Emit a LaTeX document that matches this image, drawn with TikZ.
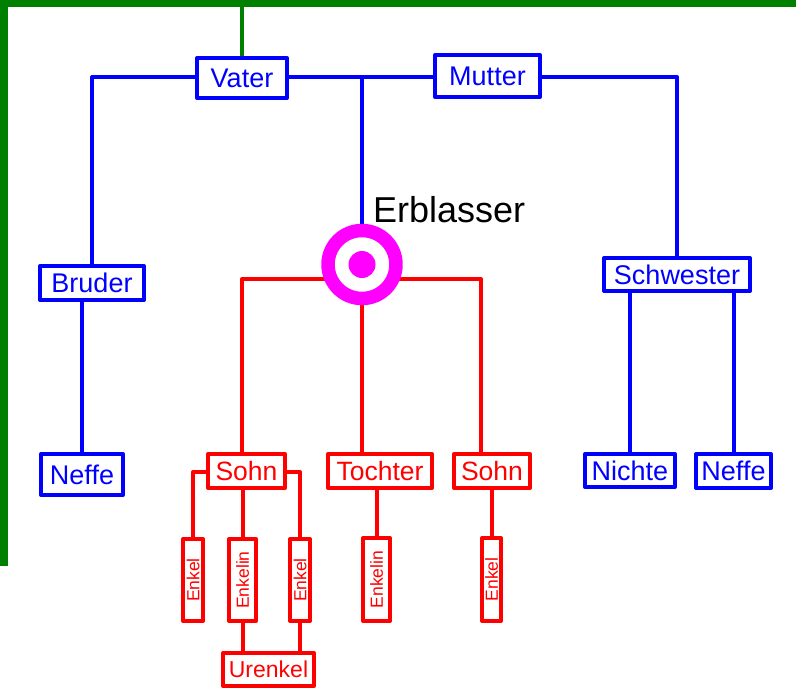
\documentclass[tikz,border=0pt]{standalone}
\usepackage{fontspec}
\setmainfont{Liberation Sans}
\definecolor{fblue}{RGB}{0,0,255}
\definecolor{fred}{RGB}{255,0,0}
\definecolor{fgreen}{RGB}{0,128,0}
\definecolor{fmag}{RGB}{255,0,255}
\begin{document}
\begin{tikzpicture}[x=1pt,y=-1pt,line join=round,
  pbox/.style={draw=fblue,line width=4pt,text=fblue,inner sep=0pt,fill=white,font=\fontsize{27}{30}\selectfont},
  cbox/.style={draw=fred,line width=4pt,text=fred,inner sep=0pt,fill=white,font=\fontsize{26.5}{30}\selectfont},
  gbox/.style={draw=fred,line width=4pt,text=fred,inner sep=0pt,fill=white,font=\fontsize{17.5}{20}\selectfont},
  bl/.style={draw=fblue,line width=4pt},
  rl/.style={draw=fred,line width=4pt},
  ring/.style={circle,draw=fmag,line width=13.5pt,fill=white,minimum size=68pt,inner sep=0pt}]
\useasboundingbox (0,0) rectangle (796,689);
\fill[white] (0,0) rectangle (796,689);
\fill[fgreen] (0,0) rectangle (796,7);
\fill[fgreen] (0,0) rectangle (8,566);

% parents' generation
\node[pbox,minimum width=90pt,minimum height=40pt] (vater) at (242,78) {Vater};
\node[pbox,minimum width=105pt,minimum height=42pt] (mutter) at (487.5,76) {Mutter};
\node[pbox,minimum width=104pt,minimum height=34pt] (bruder) at (92,283) {Bruder};
\node[pbox,minimum width=82pt,minimum height=41pt] (neffeL) at (82,474.5) {Neffe};
\node[pbox,minimum width=146pt,minimum height=33pt] (schwester) at (677,274.5) {Schwester};
\node[pbox,minimum width=90pt,minimum height=33pt] (nichte) at (630,470.5) {Nichte};
\node[pbox,minimum width=75pt,minimum height=34pt] (neffeR) at (733.5,471) {Neffe};

% children
\node[cbox,minimum width=77pt,minimum height=34pt] (sohn1) at (246.5,471) {Sohn};
\node[cbox,minimum width=104pt,minimum height=34pt] (tochter) at (380,471) {Tochter};
\node[cbox,minimum width=76pt,minimum height=34pt] (sohn2) at (492,471) {Sohn};

% grandchildren
\node[gbox,minimum width=20pt,minimum height=82pt] (enk1) at (193,580) {\rotatebox{90}{Enkel}};
\node[gbox,minimum width=27pt,minimum height=82pt] (enkin1) at (242.5,580) {\rotatebox{90}{Enkelin}};
\node[gbox,minimum width=20pt,minimum height=82pt] (enk3) at (300,580) {\rotatebox{90}{Enkel}};
\node[gbox,minimum width=27pt,minimum height=83pt] (enkin2) at (376.5,579.5) {\rotatebox{90}{Enkelin}};
\node[gbox,minimum width=19pt,minimum height=83pt] (enk5) at (491.5,579.5) {\rotatebox{90}{Enkel}};
\node[cbox,minimum width=91pt,minimum height=33pt,font=\fontsize{23}{26}\selectfont] (urenkel) at (268.5,669.5) {Urenkel};

% junction coordinates
\coordinate (gtop) at (242,5);
\coordinate (jL) at (92,77);
\coordinate (jM) at (362,77);
\coordinate (jR) at (677,77);
\coordinate (E) at (362,264.5);
\coordinate (r1) at (242,279);
\coordinate (r3) at (481,279);
\coordinate (s1L) at (193,472);
\coordinate (s1R) at (300,472);

% green link
\draw[fgreen,line width=4.5pt] (gtop) -- (vater.north);

% red connectors (under the ring)
\draw[rl] (r1 |- sohn1.north) -- (r1) -- (r3) -- (r3 |- sohn2.north);
\draw[rl] (E) -- (E |- tochter.north);
\draw[rl] (s1L -| sohn1.west) -- (s1L) -- (enk1.north);
\draw[rl] (s1R -| sohn1.east) -- (s1R) -- (enk3.north);
\draw[rl] (enkin1.north |- sohn1.south) -- (enkin1.north);
\draw[rl] (enkin1.south) -- (enkin1.south |- urenkel.north);
\draw[rl] (enk3.south) -- (enk3.south |- urenkel.north);
\draw[rl] (enkin2.north |- tochter.south) -- (enkin2.north);
\draw[rl] (enk5.north |- sohn2.south) -- (enk5.north);

% Erblasser
\node[ring] (erb) at (E) {};
\fill[fmag] (erb.center) circle (13.5pt);
\node[anchor=base west,inner sep=0pt,font=\fontsize{36}{40}\selectfont] (erblabel) at (373,222) {Erblasser};

% blue connectors
\draw[bl] (jL -| vater.west) -- (jL) -- (jL |- bruder.north);
\draw[bl] (jM -| vater.east) -- (jM -| mutter.west);
\draw[bl] (jR -| mutter.east) -- (jR) -- (jR |- schwester.north);
\draw[bl] (jM) -- (erb.north);
\draw[bl] (neffeL.north |- bruder.south) -- (neffeL.north);
\draw[bl] (nichte.north |- schwester.south) -- (nichte.north);
\draw[bl] (neffeR.north |- schwester.south) -- (neffeR.north);
\end{tikzpicture}
\end{document}
